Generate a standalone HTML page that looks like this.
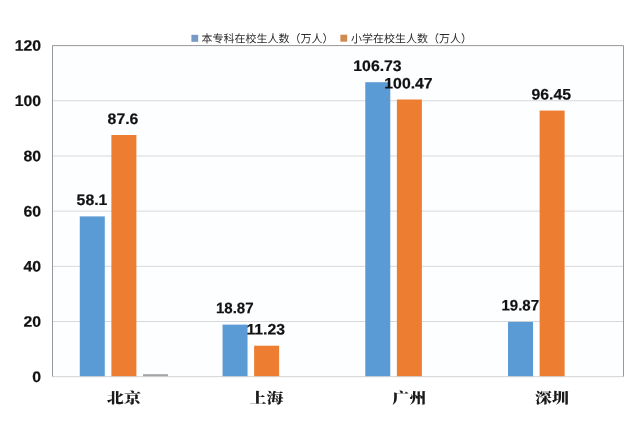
<!DOCTYPE html>
<html lang="zh"><head><meta charset="utf-8"><title>chart</title>
<style>
html,body{margin:0;padding:0;background:#fff;}
body{width:640px;height:424px;overflow:hidden;}
svg{display:block;}
.ax,.dl{font-family:"Liberation Sans","Noto Sans CJK SC",sans-serif;font-weight:bold;font-size:15.2px;fill:#111;stroke:#111;stroke-width:0.2px;}
.cat{font-family:"Liberation Serif","Noto Serif CJK SC",serif;font-weight:900;font-size:14.8px;fill:#1a1a1a;}
.lg{font-family:"Liberation Sans","Noto Sans CJK SC",sans-serif;font-size:11px;fill:#2b2b2b;}
</style></head><body>
<svg width="640" height="424" viewBox="0 0 640 424">
<rect x="0" y="0" width="640" height="424" fill="#ffffff"/>
<rect x="52.5" y="45.6" width="571.0" height="331.09999999999997" fill="#fdfeff"/>
<line x1="52.5" x2="623.5" y1="321.52" y2="321.52" stroke="#d8d8d8" stroke-width="1"/>
<line x1="52.5" x2="623.5" y1="266.33" y2="266.33" stroke="#d8d8d8" stroke-width="1"/>
<line x1="52.5" x2="623.5" y1="211.15" y2="211.15" stroke="#d8d8d8" stroke-width="1"/>
<line x1="52.5" x2="623.5" y1="155.97" y2="155.97" stroke="#d8d8d8" stroke-width="1"/>
<line x1="52.5" x2="623.5" y1="100.78" y2="100.78" stroke="#d8d8d8" stroke-width="1"/>
<rect x="79.78" y="216.39" width="25.0" height="160.31" fill="#5b9bd5"/>
<rect x="111.38" y="135.00" width="25.0" height="241.70" fill="#ed7d31"/>
<rect x="142.97" y="374.20" width="25.0" height="2.5" fill="#a5a5a5"/>
<rect x="222.53" y="324.63" width="25.0" height="52.07" fill="#5b9bd5"/>
<rect x="254.12" y="345.71" width="25.0" height="30.99" fill="#ed7d31"/>
<rect x="365.27" y="82.21" width="25.0" height="294.49" fill="#5b9bd5"/>
<rect x="396.88" y="99.49" width="25.0" height="277.21" fill="#ed7d31"/>
<rect x="508.02" y="321.88" width="25.0" height="54.82" fill="#5b9bd5"/>
<rect x="539.62" y="110.58" width="25.0" height="266.12" fill="#ed7d31"/>
<path d="M52.5 376.7 L52.5 45.6 L623.5 45.6 L623.5 376.7" fill="none" stroke="#989898" stroke-width="1"/>
<line x1="52.5" x2="623.5" y1="376.7" y2="376.7" stroke="#d2d2d2" stroke-width="1"/>
<text class="ax" transform="translate(41.10 381.95) rotate(0.03) scale(1.04 1)" text-anchor="end">0</text>
<text class="ax" transform="translate(41.10 326.77) rotate(0.03) scale(1.04 1)" text-anchor="end">20</text>
<text class="ax" transform="translate(41.10 271.58) rotate(0.03) scale(1.04 1)" text-anchor="end">40</text>
<text class="ax" transform="translate(41.10 216.40) rotate(0.03) scale(1.04 1)" text-anchor="end">60</text>
<text class="ax" transform="translate(41.10 161.22) rotate(0.03) scale(1.04 1)" text-anchor="end">80</text>
<text class="ax" transform="translate(41.10 106.03) rotate(0.03) scale(1.04 1)" text-anchor="end">100</text>
<text class="ax" transform="translate(41.10 50.85) rotate(0.03) scale(1.04 1)" text-anchor="end">120</text>
<text class="dl" transform="translate(91.98 205.09) rotate(0.03) scale(1.04 1)" text-anchor="middle">58.1</text>
<text class="dl" transform="translate(122.97 123.90) rotate(0.03) scale(1.04 1)" text-anchor="middle">87.6</text>
<text class="dl" transform="translate(234.72 313.33) rotate(0.03) scale(0.99 1)" text-anchor="middle">18.87</text>
<text class="dl" transform="translate(265.73 334.61) rotate(0.03) scale(1.04 1)" text-anchor="middle">11.23</text>
<text class="dl" transform="translate(377.47 70.91) rotate(0.03) scale(1.04 1)" text-anchor="middle">106.73</text>
<text class="dl" transform="translate(408.48 88.39) rotate(0.03) scale(1.04 1)" text-anchor="middle">100.47</text>
<text class="dl" transform="translate(520.23 310.58) rotate(0.03) scale(0.99 1)" text-anchor="middle">19.87</text>
<text class="dl" transform="translate(551.23 99.48) rotate(0.03) scale(1.04 1)" text-anchor="middle">96.45</text>
<text class="cat" transform="translate(123.88 403.2) rotate(0.03) scale(1.15 1)" text-anchor="middle">北京</text>
<text class="cat" transform="translate(266.62 403.2) rotate(0.03) scale(1.15 1)" text-anchor="middle">上海</text>
<text class="cat" transform="translate(409.38 403.2) rotate(0.03) scale(1.15 1)" text-anchor="middle">广州</text>
<text class="cat" transform="translate(552.12 403.2) rotate(0.03) scale(1.15 1)" text-anchor="middle">深圳</text>
<rect x="191.4" y="34.8" width="6.8" height="7" fill="#7699c5"/>
<text class="lg" transform="translate(201.6 42.4) rotate(0.03)">本专科在校生人数（万人）</text>
<rect x="340.4" y="34.7" width="6.8" height="7" fill="#d08a4d"/>
<text class="lg" transform="translate(351 42.5) rotate(0.03)">小学在校生人数（万人）</text>
</svg>
</body></html>
